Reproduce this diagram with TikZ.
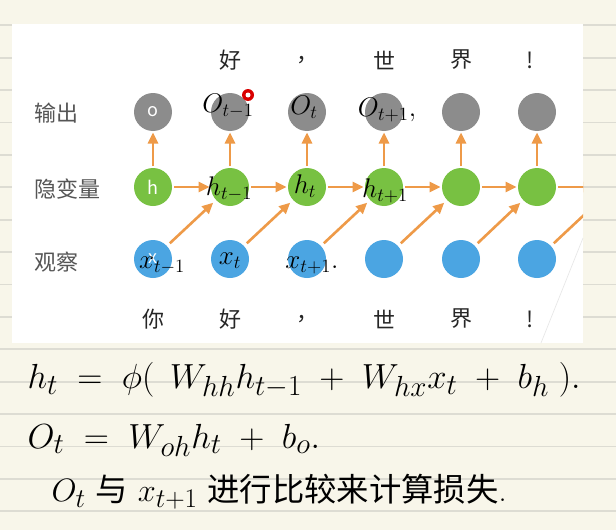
\documentclass[tikz,border=0pt]{standalone}
\usepackage{amsmath}
\usepackage{fontspec}
\newfontfamily\cjk{Noto Sans CJK SC}
\usetikzlibrary{arrows.meta}

\definecolor{paper}{HTML}{F8F6EA}
\definecolor{ruling}{HTML}{DDDCD3}
\definecolor{outgray}{HTML}{8C8C8C}
\definecolor{hidgreen}{HTML}{78C142}
\definecolor{obsblue}{HTML}{4BA5E2}
\definecolor{linkorange}{HTML}{EE9A48}
\definecolor{labgray}{HTML}{555555}

\tikzset{
  unit/.style={circle,minimum size=38pt,inner sep=0pt,outer sep=0pt,text=white,font=\cjk\fontsize{18}{18}\selectfont},
  outunit/.style={unit,fill=outgray},
  hidunit/.style={unit,fill=hidgreen},
  obsunit/.style={unit,fill=obsblue},
  link/.style={draw=linkorange,line width=2.6pt,-{Triangle[length=11pt,width=10pt]},shorten <=2pt,shorten >=1.5pt},
  diaglink/.style={link,shorten <=4pt,shorten >=4pt},
  rowlabel/.style={anchor=west,text=labgray,font=\cjk\fontsize{22}{22}\selectfont},
  word/.style={text=black!85,font=\cjk\fontsize{22}{22}\selectfont},
  hand/.style={text=black,inner sep=0pt,font=\fontsize{20.74}{22}\selectfont},
  formula/.style={anchor=west,text=black,font=\fontsize{24.88}{26}\selectfont},
}
\newcommand{\bighand}[2][1.3]{\scalebox{#1}{#2}}

\begin{document}
\begin{tikzpicture}[x=1pt,y=-1pt]
\useasboundingbox (0,0) rectangle (616,530);
% ruled notebook page
\fill[paper] (0,0) rectangle (616,530);
\foreach \k in {0,...,15}
  \draw[ruling,line width=1.8pt] (0,{25.3+32.4*\k}) -- (616,{25.3+32.4*\k});
\fill[white] (12,24) rectangle (583,343);
\draw[gray!20,line width=0.6pt] (583,238) -- (541,343);

% row labels
\node[rowlabel] (lout) at (31,113) {输出};
\node[rowlabel] (lhid) at (31,189) {隐变量};
\node[rowlabel] (lobs) at (31,262) {观察};

% words
\node[word] (top2) at (230,60) {好};
\node[word] (top3) at (307,60) {，};
\node[word] (top4) at (384,60) {世};
\node[word] (top5) at (461,60) {界};
\node[word] (top6) at (530,60) {!};
\node[word] (bot1) at (153,319) {你};
\node[word] (bot2) at (230,319) {好};
\node[word] (bot3) at (307,319) {，};
\node[word] (bot4) at (384,319) {世};
\node[word] (bot5) at (461,319) {界};
\node[word] (bot6) at (530,319) {!};

% units
\node[outunit] (o1) at (153,112) {o};
\node[outunit] (o2) at (230,112) {};
\node[outunit] (o3) at (307,112) {};
\node[outunit] (o4) at (384,112) {};
\node[outunit] (o5) at (461,112) {};
\node[outunit] (o6) at (537,112) {};
\node[hidunit] (h1) at (153,187) {h};
\node[hidunit] (h2) at (230,187) {};
\node[hidunit] (h3) at (307,187) {};
\node[hidunit] (h4) at (384,187) {};
\node[hidunit] (h5) at (461,187) {};
\node[hidunit] (h6) at (537,187) {};
\node[obsunit] (x1) at (153,259) {x};
\node[obsunit] (x2) at (230,259) {};
\node[obsunit] (x3) at (307,259) {};
\node[obsunit] (x4) at (384,259) {};
\node[obsunit] (x5) at (461,259) {};
\node[obsunit] (x6) at (537,259) {};
\coordinate (h7) at (594,187);
\coordinate (h7d) at (600,200);

% connectors
\draw[link] (h1) -- (o1);
\draw[link] (h2) -- (o2);
\draw[link] (h3) -- (o3);
\draw[link] (h4) -- (o4);
\draw[link] (h5) -- (o5);
\draw[link] (h6) -- (o6);
\draw[link] (h1) -- (h2);
\draw[link] (h2) -- (h3);
\draw[link] (h3) -- (h4);
\draw[link] (h4) -- (h5);
\draw[link] (h5) -- (h6);
\draw[diaglink] (x1) -- (h2);
\draw[diaglink] (x2) -- (h3);
\draw[diaglink] (x3) -- (h4);
\draw[diaglink] (x4) -- (h5);
\draw[diaglink] (x5) -- (h6);
\begin{scope}
\clip (12,24) rectangle (583,343);
\draw[link,shorten >=0pt] (h6) -- (h7);
\draw[diaglink] (x6) -- (h7d);
\end{scope}

% notes written over the slide
\node[hand] (no2) at (228,106) {\bighand{$O_{t-1}$}};
\node[hand] (no3) at (304,107) {\bighand{$O_t$}};
\node[hand] (no4) at (387,110) {\bighand{$O_{t+1},$}};
\node[hand] (nh2) at (229,189) {\bighand{$h_{t-1}$}};
\node[hand] (nh3) at (305,186) {\bighand{$h_t$}};
\node[hand] (nh4) at (385,191) {\bighand{$h_{t+1}$}};
\node[hand] (nx1) at (162,265) {\bighand{$x_{t-1}$}};
\node[hand] (nx2) at (230,261) {\bighand{$x_t$}};
\node[hand] (nx3) at (312,265) {\bighand{$x_{t+1}.$}};
\fill[red!85!black] (248,95) circle (6);
\fill[white] (248,95) circle (2.5);

% formulas
\node[formula] (eq1) at (24,380) {\bighand[1.4]{$h_t \;=\; \phi(\;\, W_{hh}h_{t-1} \;+\; W_{hx}x_t \;+\; b_h\;).$}};
\node[formula] (eq2) at (24,440) {\bighand[1.4]{$O_t \;=\; W_{oh}h_t \;+\; b_o.$}};
\node[formula] (eq3) at (48,492) {\bighand{$O_t$ {\cjk 与} $x_{t+1}$ {\cjk 进行比较来计算损失}.}};
\end{tikzpicture}
\end{document}
